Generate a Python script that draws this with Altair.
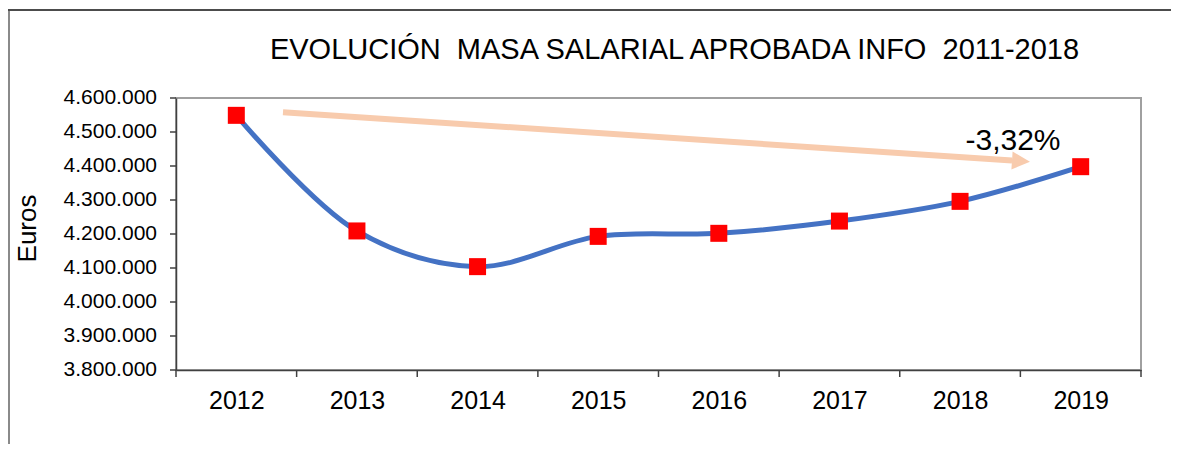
import altair as alt
import pandas as pd

# ---- data ----
years = [2012, 2013, 2014, 2015, 2016, 2017, 2018, 2019]
masa = [4549000, 4209000, 4104000, 4193000, 4202000, 4238000, 4296000, 4398000]
y_ticks = [3800000, 3900000, 4000000, 4100000, 4200000, 4300000, 4400000, 4500000, 4600000]
y_labels = ["3.800.000", "3.900.000", "4.000.000", "4.100.000", "4.200.000",
            "4.300.000", "4.400.000", "4.500.000", "4.600.000"]

title_text = "EVOLUCIÓN\u00a0 MASA SALARIAL APROBADA INFO\u00a0 2011-2018"
y_title = "Euros"
pct_label = "-3,32%"

# annotation (trend arrow) in data units
arrow_x = [2012.387, 2018.431]
arrow_y = [4558200, 4416200]
head_x = [2018.505]
head_y = [4414400]
pct_x = [2018.439]
pct_y = [4445600]

FONT = "Liberation Sans"
W, H = 965, 272

df = pd.DataFrame({"year": years, "masa": masa})
bounds = pd.DataFrame({"b": [y - 0.5 for y in years] + [years[-1] + 0.5]})
ytick_df = pd.DataFrame({"v": y_ticks, "lab": y_labels})
arrow_df = pd.DataFrame({"x": arrow_x, "y": arrow_y})
head_df = pd.DataFrame({"x": head_x, "y": head_y})
pct_df = pd.DataFrame({"x": pct_x, "y": pct_y, "t": [pct_label]})
title_df = pd.DataFrame({"t": [title_text]})
one = pd.DataFrame({"a": [0]})

xscale = alt.Scale(domain=[years[0] - 0.5, years[-1] + 0.5], nice=False, zero=False)
yscale = alt.Scale(domain=[y_ticks[0], y_ticks[-1]], nice=False, zero=False)

x_axis = alt.Axis(
    values=years, format="d", title=None, ticks=False, grid=False,
    labelFontSize=25, labelFont=FONT, labelColor="black", labelPadding=18,
    domainColor="#404040", domainWidth=1.5, labelOverlap=False,
)
y_axis = alt.Axis(
    title=y_title, grid=False, labels=False, ticks=False,
    domainColor="#404040", domainWidth=1.5,
    titleFont=FONT, titleFontSize=26, titleFontWeight="normal", titleColor="black",
    titleAngle=270, titleX=-149, titleY=130, titleAlign="center", titleBaseline="middle",
)

base = alt.Chart(df)

line = base.mark_line(color="#4472C4", strokeWidth=5, interpolate="catmull-rom").encode(
    x=alt.X("year:Q", scale=xscale, axis=x_axis),
    y=alt.Y("masa:Q", scale=yscale, axis=y_axis),
)
pts = base.mark_point(shape="square", filled=True, color="#FF0000", opacity=1, size=289).encode(
    x=alt.X("year:Q", scale=xscale),
    y=alt.Y("masa:Q", scale=yscale),
)

xticks = alt.Chart(bounds).mark_rule(color="#404040", strokeWidth=1.5).encode(
    x=alt.X("b:Q", scale=xscale),
    y=alt.value(H),
    y2=alt.value(H + 7),
)
yticks = alt.Chart(ytick_df).mark_rule(color="#404040", strokeWidth=1.5).encode(
    y=alt.Y("v:Q", scale=yscale),
    x=alt.value(-6),
    x2=alt.value(0),
)
ylabels = alt.Chart(ytick_df).mark_text(
    font=FONT, fontSize=21, color="black", align="right", baseline="middle"
).encode(
    y=alt.Y("v:Q", scale=yscale),
    x=alt.value(-19),
    text="lab:N",
)

arrow = alt.Chart(arrow_df).mark_line(color="#F8CBAD", strokeWidth=6, strokeCap="butt").encode(
    x=alt.X("x:Q", scale=xscale),
    y=alt.Y("y:Q", scale=yscale),
)
head = alt.Chart(head_df).mark_point(
    shape="M-1,-1L1,0L-1,1Z", filled=True, color="#F8CBAD", opacity=1, size=324, angle=3.8
).encode(
    x=alt.X("x:Q", scale=xscale),
    y=alt.Y("y:Q", scale=yscale),
)
pct = alt.Chart(pct_df).mark_text(
    font=FONT, fontSize=30, color="black", align="center", baseline="alphabetic"
).encode(
    x=alt.X("x:Q", scale=xscale),
    y=alt.Y("y:Q", scale=yscale),
    text="t:N",
)

title = alt.Chart(title_df).mark_text(
    font=FONT, fontSize=29, color="black", align="center", baseline="alphabetic"
).encode(
    x=alt.value(W / 2 + 16), y=alt.value(-39), text="t:N"
)

frame_top = alt.Chart(one).mark_rule(color="#111111", strokeWidth=1.5).encode(
    x=alt.value(-168), x2=alt.value(995), y=alt.value(-88)
)
frame_left = alt.Chart(one).mark_rule(color="#8a8a8a", strokeWidth=2).encode(
    x=alt.value(-167), y=alt.value(-87), y2=alt.value(350)
)

chart = alt.layer(
    frame_top, frame_left, xticks, yticks, ylabels, line, pts, arrow, head, pct, title
).properties(
    width=W, height=H,
    padding={"left": 168, "top": 90, "right": 30, "bottom": 74},
    autosize=alt.AutoSizeParams(type="none"),
).configure_view(stroke="#A0A0A0", strokeWidth=2)

chart.save("out.html", embed_options={"renderer": "svg", "actions": False})
